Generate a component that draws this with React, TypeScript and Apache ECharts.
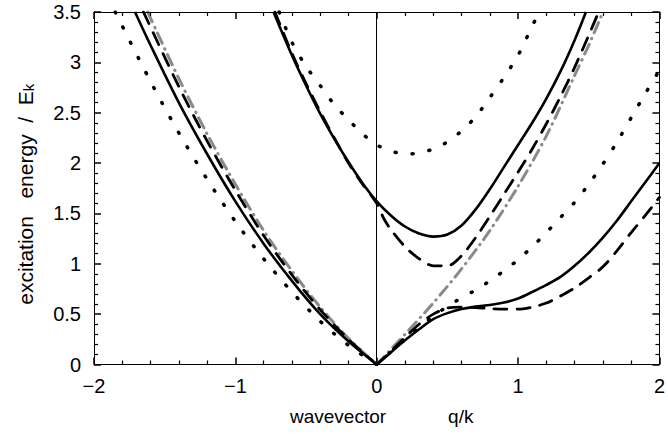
import React, { useEffect, useRef } from "react";
import * as echarts from "echarts";

// tick labels
const xTickLabels = ["\u22122", "\u22121", "0", "1", "2"];
const yTickLabels = ["0", "0.5", "1", "1.5", "2", "2.5", "3", "3.5"];

// ---- lower branch (left half / right half) ----
const solidLowLX = [-1.71, -1.6, -1.4, -1.2, -1.0, -0.8, -0.6, -0.4, -0.2, 0];
const solidLowLY = [3.5, 3.17, 2.6, 2.09, 1.62, 1.2, 0.83, 0.5, 0.23, 0];
const solidLowRX = [0, 0.1, 0.2, 0.3, 0.4, 0.5, 0.6, 0.7, 0.8, 0.9, 1.0, 1.1, 1.2, 1.3, 1.4, 1.5, 1.6, 1.7, 1.8, 1.9, 2.0];
const solidLowRY = [0, 0.12, 0.24, 0.35, 0.45, 0.51, 0.55, 0.575, 0.59, 0.615, 0.655, 0.72, 0.79, 0.87, 0.98, 1.11, 1.26, 1.43, 1.62, 1.81, 2.0];

const dashLowLX = [-1.65, -1.4, -1.2, -1.0, -0.8, -0.6, -0.4, -0.2, 0];
const dashLowLY = [3.5, 2.76, 2.22, 1.73, 1.28, 0.89, 0.545, 0.25, 0];
const dashLowRX = [0, 0.1, 0.2, 0.3, 0.4, 0.5, 0.6, 0.7, 0.8, 0.9, 1.0, 1.1, 1.2, 1.3, 1.4, 1.5, 1.6, 1.7, 1.8, 1.9, 2.0];
const dashLowRY = [0, 0.13, 0.27, 0.4, 0.5, 0.56, 0.57, 0.565, 0.555, 0.55, 0.55, 0.57, 0.61, 0.68, 0.76, 0.86, 0.97, 1.13, 1.31, 1.48, 1.66];

const dotLowLX = [-1.85, -1.6, -1.4, -1.2, -1.0, -0.8, -0.6, -0.4, -0.2, 0];
const dotLowLY = [3.5, 2.81, 2.3, 1.84, 1.42, 1.05, 0.72, 0.43, 0.19, 0];
const dotLowRX = [0, 0.2, 0.4, 0.55, 0.7, 0.8, 0.9, 1.0, 1.1, 1.2, 1.3, 1.4, 1.5, 1.6, 1.7, 1.8, 1.9, 2.0];
const dotLowRY = [0, 0.25, 0.48, 0.62, 0.74, 0.83, 0.93, 1.04, 1.17, 1.31, 1.46, 1.61, 1.79, 1.99, 2.21, 2.45, 2.69, 2.92];

const grayLX = [-1.62, -1.4, -1.2, -1.0, -0.8, -0.6, -0.4, -0.2, 0];
const grayLY = [3.5, 2.84, 2.29, 1.79, 1.33, 0.93, 0.57, 0.26, 0];
const grayRX = [0, 0.2, 0.4, 0.6, 0.8, 1.0, 1.2, 1.4, 1.5, 1.6];
const grayRY = [0, 0.3, 0.61, 0.95, 1.33, 1.77, 2.27, 2.87, 3.17, 3.5];

// ---- upper branch ----
const solidUpX = [-0.73, -0.6, -0.5, -0.4, -0.3, -0.2, -0.1, 0, 0.1, 0.2, 0.3, 0.4, 0.5, 0.6, 0.7, 0.8, 0.9, 1.0, 1.1, 1.2, 1.3, 1.4, 1.48];
const solidUpY = [3.5, 3.07, 2.77, 2.49, 2.24, 2.01, 1.8, 1.62, 1.48, 1.37, 1.3, 1.27, 1.29, 1.38, 1.54, 1.74, 1.96, 2.18, 2.4, 2.64, 2.91, 3.22, 3.5];

const dashUpX = [-0.72, -0.6, -0.5, -0.4, -0.3, -0.2, -0.1, 0, 0.05, 0.1, 0.2, 0.3, 0.4, 0.5, 0.6, 0.7, 0.8, 0.9, 1.0, 1.1, 1.2, 1.3, 1.4, 1.5, 1.57];
const dashUpY = [3.5, 3.09, 2.79, 2.51, 2.25, 2.0, 1.79, 1.6, 1.45, 1.34, 1.17, 1.05, 0.98, 0.98, 1.08, 1.26, 1.47, 1.69, 1.91, 2.14, 2.39, 2.66, 2.95, 3.27, 3.5];

const dotUpX = [-0.69, -0.6, -0.5, -0.4, -0.3, -0.2, -0.1, 0, 0.1, 0.2, 0.3, 0.4, 0.5, 0.6, 0.7, 0.8, 0.9, 1.0, 1.1, 1.15];
const dotUpY = [3.5, 3.2, 2.96, 2.77, 2.58, 2.43, 2.29, 2.18, 2.12, 2.09, 2.1, 2.14, 2.21, 2.32, 2.46, 2.65, 2.85, 3.07, 3.36, 3.5];

const pairs = (xs: number[], ys: number[]) => xs.map((x, i) => [x, ys[i]]);

export default function App() {
  const ref = useRef<HTMLDivElement>(null);
  useEffect(() => {
    const chart = echarts.init(ref.current!, null, { renderer: "svg" });
    const font = "'Liberation Sans', Arial, Helvetica, sans-serif";
    const black = "#000";
    const mkLine = (onZero: boolean) => ({ show: true, onZero, lineStyle: { color: black, width: 1 } });
    const mkTick = () => ({ show: true, inside: true, length: 7, lineStyle: { color: black, width: 1.5 } });
    const mkMinor = () => ({ show: true, splitNumber: 5, length: 4, lineStyle: { color: black, width: 1.2 } });

    const DOT = [1, 16];
    const DASH = [13, 10];
    const DASHDOT = [11, 6, 0.5, 6];
    const line = (data: number[][], color: string, width: number, type: any, z: number) => ({
      type: "line",
      data,
      showSymbol: false,
      symbol: "none",
      smooth: 0.3,
      clip: true,
      z,
      lineStyle: { color, width, type, cap: type === "solid" ? "butt" : "round", join: "round" },
    });
    const grayL: any = line(pairs(grayLX, grayLY), "#8a8a8a", 3, DASHDOT, 2);
    grayL.markLine = {
      silent: true,
      symbol: "none",
      label: { show: false },
      lineStyle: { color: black, width: 1, type: "solid" },
      data: [{ xAxis: 0 }],
    };
    chart.setOption({
      animation: false,
      grid: { left: 94, right: 1, top: 12, bottom: 74.5 },
      xAxis: [
        {
          type: "value",
          min: -2,
          max: 2,
          interval: 1,
          z: 10,
          axisLine: mkLine(true),
          axisTick: mkTick(),
          minorTick: mkMinor(),
          splitLine: { show: false },
          axisLabel: {
            color: black,
            fontSize: 20,
            fontFamily: font,
            margin: 11,
            formatter: (v: number) => xTickLabels[Math.round(v + 2)],
          },
          name: "{a|wavevector}{b|q/k}",
          nameLocation: "middle",
          nameGap: 42,
          nameTextStyle: {
            rich: {
              a: { fontSize: 19, fontFamily: font, color: black, padding: [0, 0, 0, 10] },
              b: { fontSize: 19, fontFamily: font, color: black, padding: [0, 0, 0, 62] },
            },
          },
        },
        {
          type: "value",
          min: -2,
          max: 2,
          interval: 1,
          position: "top",
          z: 10,
          axisLine: mkLine(false),
          axisTick: mkTick(),
          minorTick: mkMinor(),
          splitLine: { show: false },
          axisLabel: { show: false },
        },
      ],
      yAxis: [
        {
          type: "value",
          min: 0,
          max: 3.5,
          interval: 0.5,
          z: 10,
          axisLine: mkLine(false),
          axisTick: mkTick(),
          minorTick: mkMinor(),
          splitLine: { show: false },
          axisLabel: {
            color: black,
            fontSize: 20,
            fontFamily: font,
            margin: 13,
            formatter: (v: number) => yTickLabels[Math.round(v / 0.5)],
          },
          name: "excitation   energy  /  E{s|k}",
          nameLocation: "middle",
          nameGap: 58,
          nameTextStyle: {
            color: black,
            fontSize: 21,
            fontFamily: font,
            rich: {
              s: { fontSize: 15, fontFamily: font, color: black, verticalAlign: "bottom", padding: [6, 12, 0, 0] },
            },
          },
        },
        {
          type: "value",
          min: 0,
          max: 3.5,
          interval: 0.5,
          position: "right",
          z: 10,
          axisLine: mkLine(false),
          axisTick: mkTick(),
          minorTick: mkMinor(),
          splitLine: { show: false },
          axisLabel: { show: false },
        },
      ],
      series: [
        grayL,
        line(pairs(grayRX, grayRY), "#8a8a8a", 3, DASHDOT, 2),
        line(pairs(dotLowLX, dotLowLY), black, 3.5, DOT, 3),
        line(pairs(dotLowRX, dotLowRY), black, 3.5, DOT, 3),
        line(pairs(dotUpX, dotUpY), black, 3.5, DOT, 3),
        line(pairs(dashLowLX, dashLowLY), black, 2.8, DASH, 4),
        line(pairs(dashLowRX, dashLowRY), black, 2.8, DASH, 4),
        line(pairs(dashUpX, dashUpY), black, 2.8, DASH, 4),
        line(pairs(solidLowLX, solidLowLY), black, 2.6, "solid", 5),
        line(pairs(solidLowRX, solidLowRY), black, 2.6, "solid", 5),
        line(pairs(solidUpX, solidUpY), black, 2.6, "solid", 5),
      ],
    });
    return () => chart.dispose();
  }, []);
  return <div ref={ref} style={{ position: "absolute", left: 0, top: 0, width: 668, height: 439 }} />;
}
